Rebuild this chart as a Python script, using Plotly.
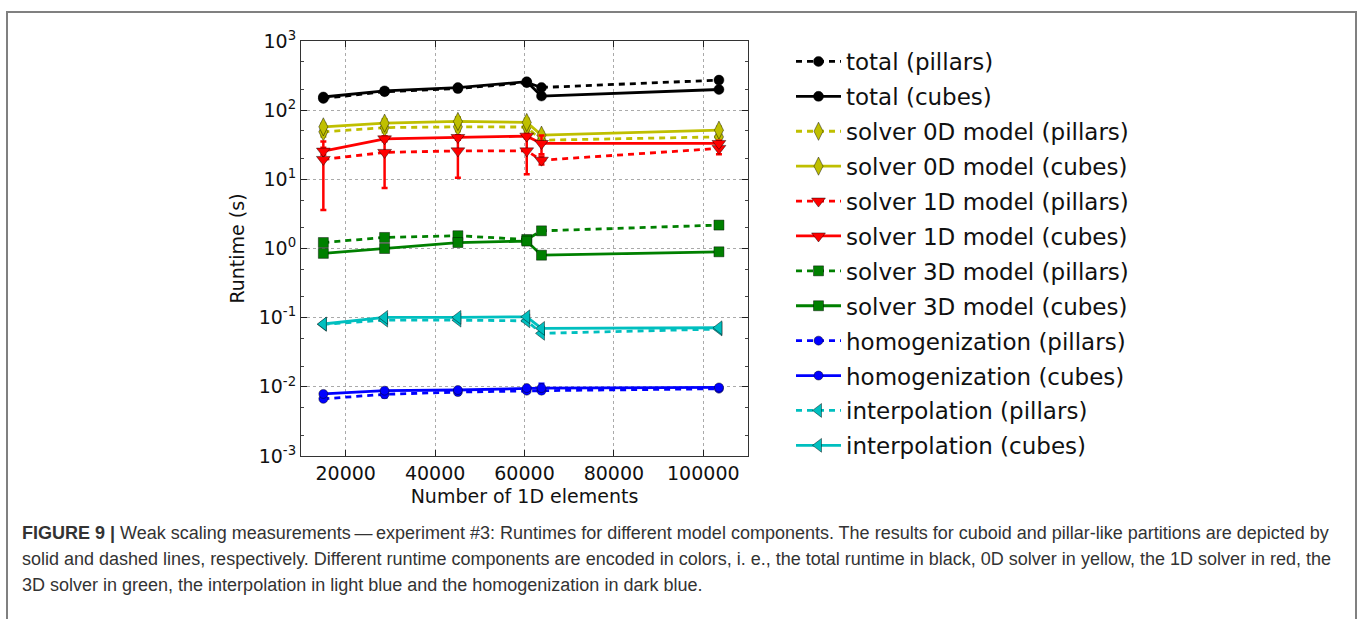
import plotly.graph_objects as go

# Number of 1D elements for each measurement
elements = [15000, 28700, 45100, 60500, 63800, 103500]

# Runtimes (s) and their spreads, one pair of lists per component / partition
total_pillars = [148, 185, 205, 250, 213, 272]
total_pillars_err = [6, 6, 6, 8, 8, 8]
total_cubes = [155, 190, 212, 258, 160, 199]
total_cubes_err = [6, 6, 6, 8, 6, 6]

solver0d_pillars = [48.6, 56.0, 57.4, 57.0, 36.8, 41.1]
solver0d_pillars_err = [7, 8, 8, 8, 4, 5]
solver0d_cubes = [57.4, 64.9, 68.7, 66.4, 43.5, 51.4]
solver0d_cubes_err = [6, 9, 10, 9, 5, 6]

solver1d_pillars = [19.4, 24.5, 25.8, 25.8, 18.9, 28.0]
solver1d_pillars_err = [15.8, 17.0, 15.3, 14.0, 2.5, 5.0]
solver1d_cubes = [25.6, 38.5, 40.3, 42.1, 33.0, 33.0]
solver1d_cubes_err = [3, 3, 3, 3, 10, 3]

solver3d_pillars = [1.22, 1.445, 1.53, 1.35, 1.80, 2.18]
solver3d_pillars_err = [0.05, 0.05, 0.06, 0.05, 0.05, 0.05]
solver3d_cubes = [0.85, 1.00, 1.22, 1.28, 0.80, 0.896]
solver3d_cubes_err = [0.03, 0.03, 0.08, 0.06, 0.03, 0.03]

homog_pillars = [0.0067, 0.0078, 0.0084, 0.0088, 0.0088, 0.0094]
homog_pillars_err = [0.0004, 0.0008, 0.0004, 0.0004, 0.0006, 0.0003]
homog_cubes = [0.0079, 0.0088, 0.0090, 0.0096, 0.0096, 0.0098]
homog_cubes_err = [0.0003, 0.0003, 0.0003, 0.0004, 0.0015, 0.0003]

interp_pillars = [0.080, 0.092, 0.092, 0.090, 0.0593, 0.0685]
interp_pillars_err = [0.002, 0.002, 0.002, 0.002, 0.002, 0.002]
interp_cubes = [0.081, 0.101, 0.101, 0.103, 0.070, 0.0715]
interp_cubes_err = [0.002, 0.002, 0.002, 0.002, 0.002, 0.002]

y_tick_vals = [1e-3, 1e-2, 1e-1, 1e0, 1e1, 1e2, 1e3]
y_tick_text = ["10<sup>-3</sup>", "10<sup>-2</sup>", "10<sup>-1</sup>", "10<sup>0</sup>",
               "10<sup>1</sup>", "10<sup>2</sup>", "10<sup>3</sup>"]
x_tick_vals = [20000, 40000, 60000, 80000, 100000]

caption_lines = [
    "<b>FIGURE 9 |</b> Weak scaling measurements\u2009\u2014\u2009experiment #3: Runtimes for different model components. "
    "The results for cuboid and pillar-like partitions are depicted by",
    "solid and dashed lines, respectively. Different runtime components are encoded in colors, i. e., "
    "the total runtime in black, 0D solver in yellow, the 1D solver in red, the",
    "3D solver in green, the interpolation in light blue and the homogenization in dark blue.",
]

series = [
    ("total (pillars)", total_pillars, total_pillars_err, "#000000", "circle", 10, True),
    ("total (cubes)", total_cubes, total_cubes_err, "#000000", "circle", 10, False),
    ("solver 0D model (pillars)", solver0d_pillars, solver0d_pillars_err, "#bfbf00", "diamond-tall", 13, True),
    ("solver 0D model (cubes)", solver0d_cubes, solver0d_cubes_err, "#bfbf00", "diamond-tall", 13, False),
    ("solver 1D model (pillars)", solver1d_pillars, solver1d_pillars_err, "#ff0000", "triangle-down", 12, True),
    ("solver 1D model (cubes)", solver1d_cubes, solver1d_cubes_err, "#ff0000", "triangle-down", 12, False),
    ("solver 3D model (pillars)", solver3d_pillars, solver3d_pillars_err, "#008000", "square", 10, True),
    ("solver 3D model (cubes)", solver3d_cubes, solver3d_cubes_err, "#008000", "square", 10, False),
    ("homogenization (pillars)", homog_pillars, homog_pillars_err, "#0000ff", "circle", 9, True),
    ("homogenization (cubes)", homog_cubes, homog_cubes_err, "#0000ff", "circle", 9, False),
    ("interpolation (pillars)", interp_pillars, interp_pillars_err, "#00bfbf", "triangle-left", 12, True),
    ("interpolation (cubes)", interp_cubes, interp_cubes_err, "#00bfbf", "triangle-left", 12, False),
]

W, H = 1360, 619
PX_L, PX_R, PX_T, PX_B = 301, 748, 41, 456


def paper_x(px):
    return (px - PX_L) / (PX_R - PX_L)


def paper_y(py):
    return (PX_B - py) / (PX_B - PX_T)


fig = go.Figure()
for i, (name, vals, errs, color, symbol, size, dashed) in enumerate(series):
    fig.add_trace(go.Scatter(
        x=elements, y=vals, name=name, mode="lines+markers",
        legendgroup=f"g{i}",
        line=dict(color=color, width=2.8, dash="6px,5px" if dashed else "solid"),
        marker=dict(symbol=symbol, size=size, color=color,
                    line=dict(color="rgba(0,0,0,0.55)", width=0.8)),
        error_y=dict(type="data", array=errs, symmetric=True, color=color,
                     thickness=2.5, width=3),
    ))

axis_font = dict(family="DejaVu Sans", size=19, color="#111111")

fig.update_xaxes(
    range=[10000, 110000], tickvals=x_tick_vals, tickformat="d",
    ticks="inside", ticklen=6, tickcolor="#222", showline=True, linecolor="#333",
    linewidth=1.2, mirror="allticks", showgrid=True, gridcolor="#aaaaaa",
    griddash="dot", gridwidth=1, zeroline=False, tickfont=axis_font,
    title=dict(text="Number of 1D elements", font=axis_font, standoff=6),
)
fig.update_yaxes(
    type="log", range=[-3, 3], tickvals=y_tick_vals, ticktext=y_tick_text,
    ticks="inside", ticklen=6, tickcolor="#222", showline=True, linecolor="#333",
    linewidth=1.2, mirror="allticks", showgrid=True, gridcolor="#aaaaaa",
    griddash="dot", gridwidth=1, zeroline=False, tickfont=axis_font,
    minor=dict(ticks="inside", ticklen=3, tickcolor="#444", showgrid=False),
    title=dict(text="Runtime (s)", font=axis_font, standoff=8),
)

annotations = []
caption_y = [533, 559, 585]
for k, line in enumerate(caption_lines):
    annotations.append(dict(
        text=line, x=paper_x(20), y=paper_y(caption_y[k]), xref="paper", yref="paper",
        xanchor="left", yanchor="middle", showarrow=False, align="left",
        font=dict(family="Liberation Sans", size=18, color="#333333"),
    ))

fig.update_layout(
    width=W, height=H, plot_bgcolor="white", paper_bgcolor="white",
    margin=dict(l=PX_L, r=W - PX_R, t=PX_T, b=H - PX_B, autoexpand=False),
    showlegend=True,
    legend=dict(
        xref="container", yref="container", x=791 / W, y=1 - 40 / H,
        xanchor="left", yanchor="top", traceorder="grouped", tracegroupgap=2,
        itemwidth=45, font=dict(family="DejaVu Sans", size=23, color="#111111"),
        bgcolor="rgba(0,0,0,0)", itemclick=False, maxheight=560,
    ),
    annotations=annotations,
    shapes=[dict(type="rect", xref="paper", yref="paper",
                 x0=paper_x(7), x1=paper_x(1356), y0=paper_y(660), y1=paper_y(12),
                 line=dict(color="#808080", width=2), fillcolor="rgba(0,0,0,0)",
                 layer="below")],
)

fig.write_html("out.html")
